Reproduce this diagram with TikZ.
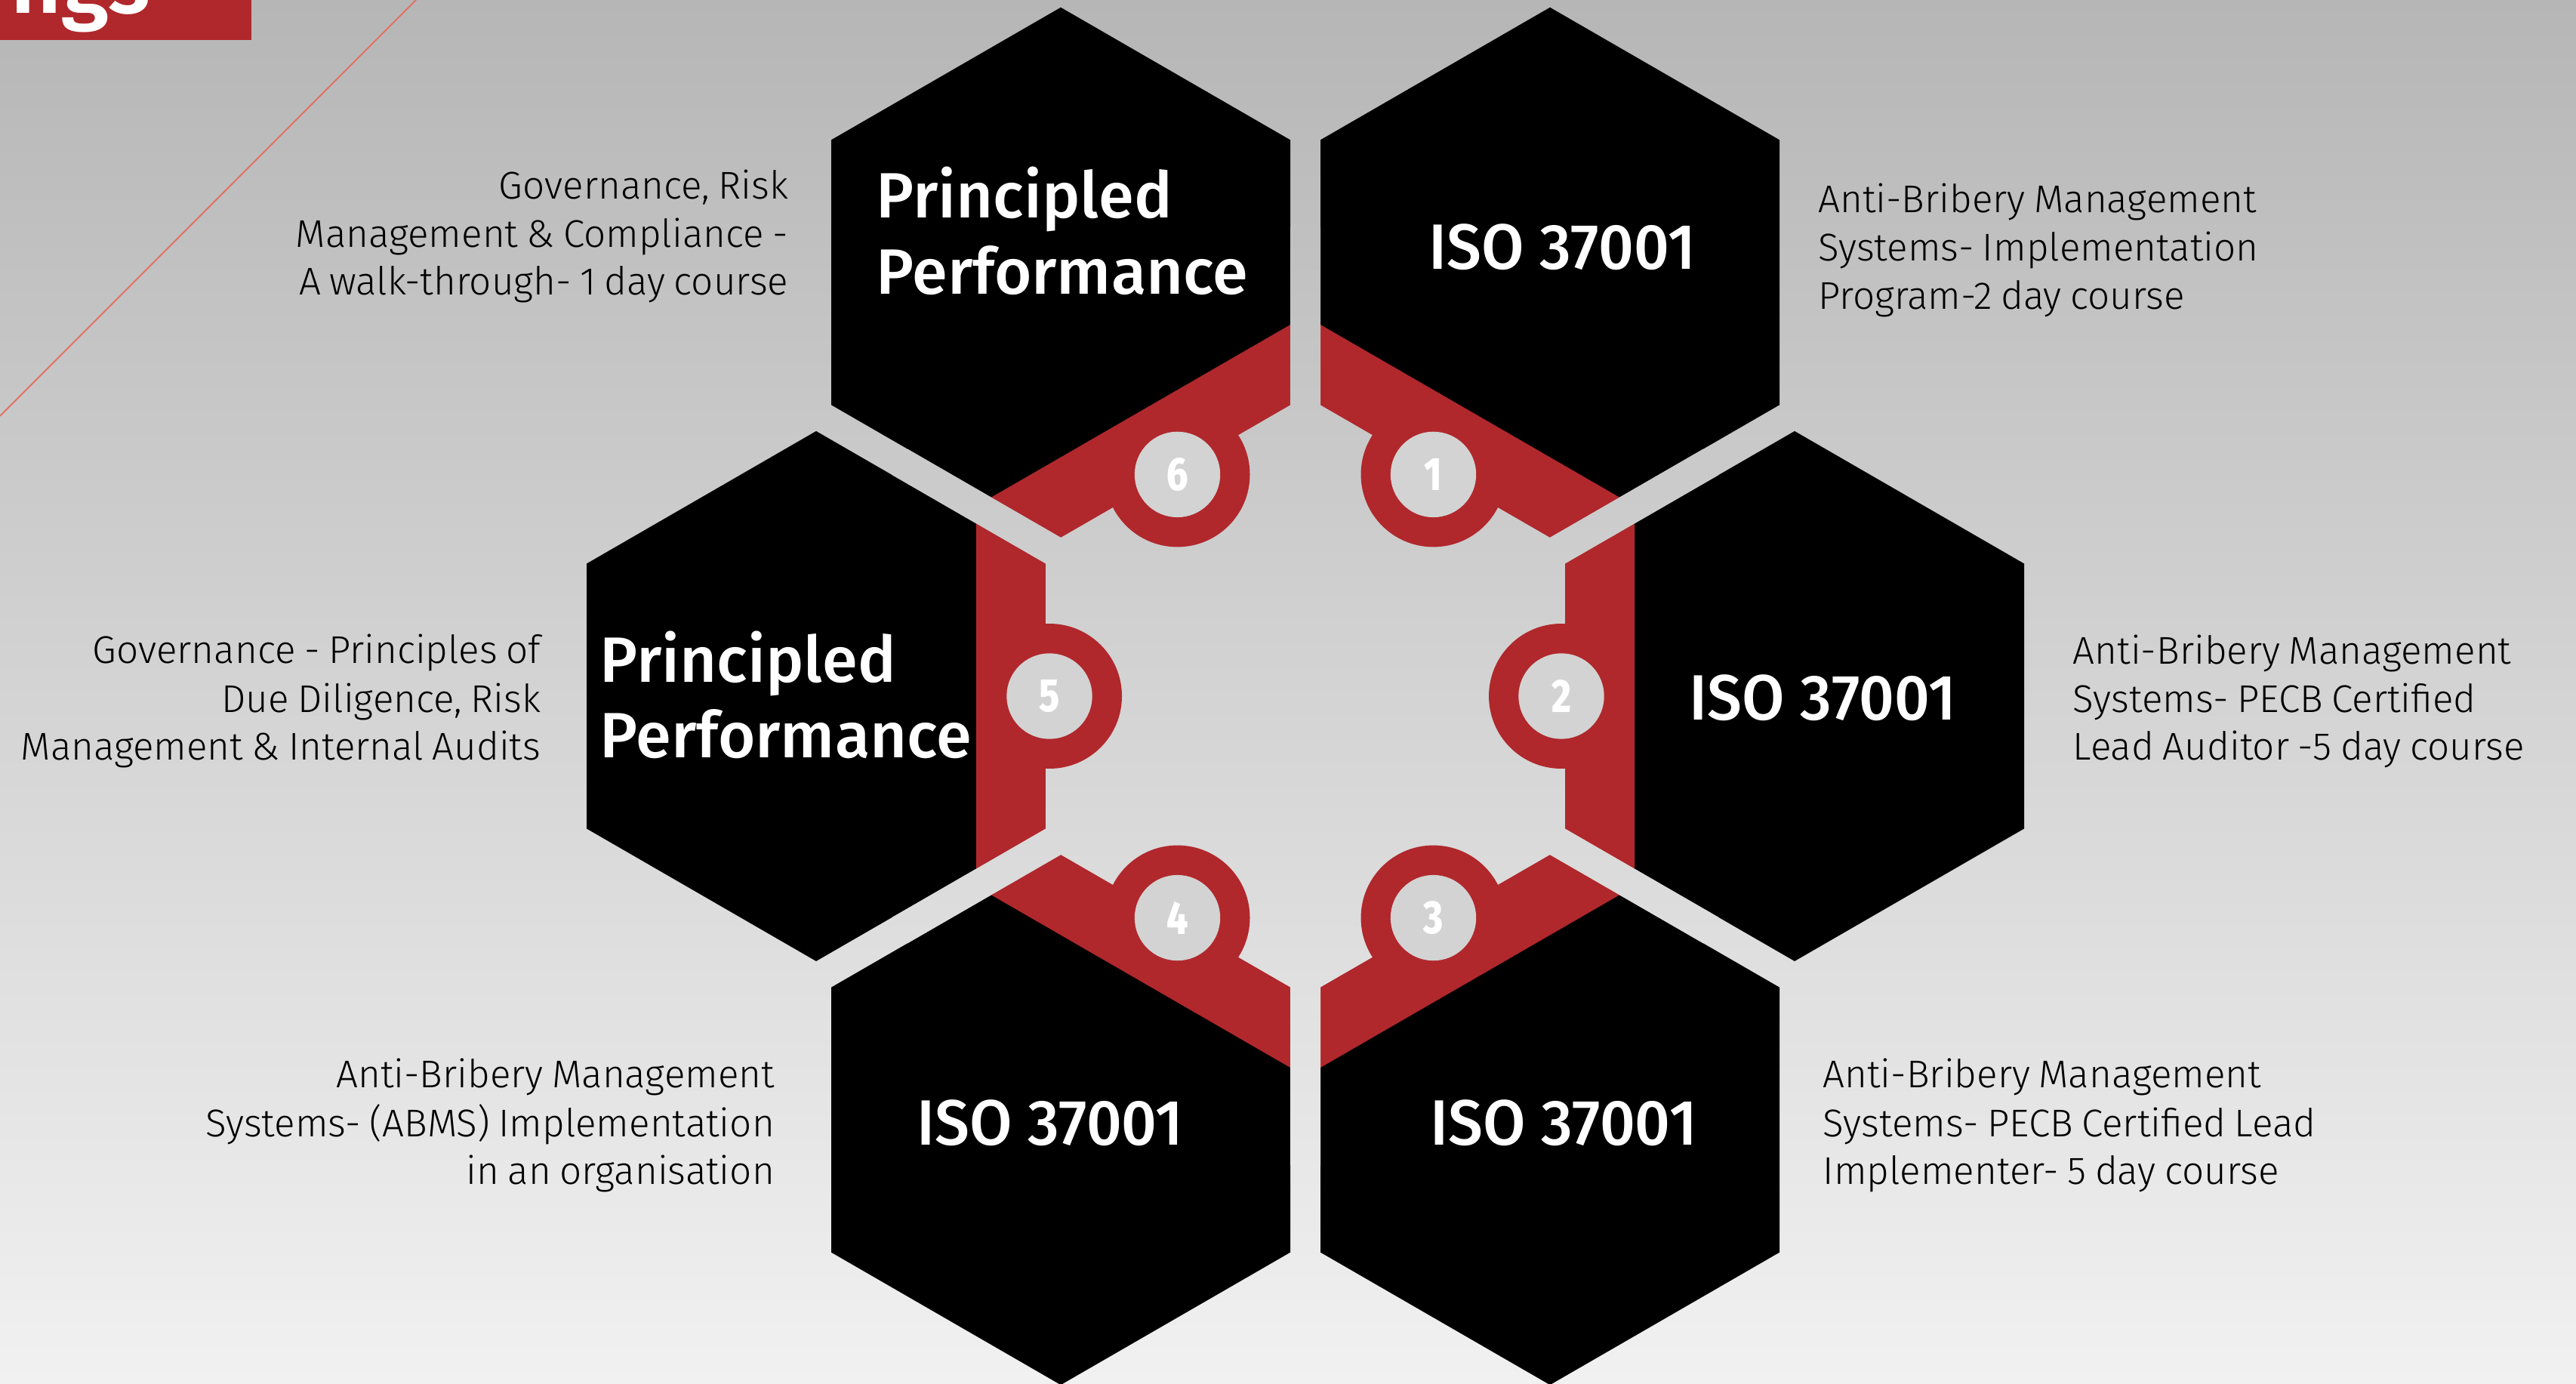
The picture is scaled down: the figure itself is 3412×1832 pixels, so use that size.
\documentclass[tikz,border=0pt]{standalone}
\usepackage{fontspec}
\usepackage{graphicx}
\usetikzlibrary{calc}
\newfontfamily\descfont{Fira Sans Light}[WordSpace=0.8]
\newfontfamily\titlefont{Fira Sans Medium}
\newfontfamily\numfont{Fira Sans ExtraBold}
\newfontfamily\headfont{Fira Sans SemiBold}
\definecolor{bgtop}{RGB}{182,182,182}
\definecolor{bgbot}{RGB}{241,241,241}
\definecolor{hexred}{RGB}{176,40,44}
\definecolor{diskgray}{RGB}{211,211,211}
\definecolor{linesalmon}{RGB}{228,112,100}
\newcommand\HexPath[2]{($(#1)+(30:#2)$) -- ($(#1)+(90:#2)$) -- ($(#1)+(150:#2)$) -- ($(#1)+(210:#2)$) -- ($(#1)+(270:#2)$) -- ($(#1)+(330:#2)$) -- cycle}
\tikzset{
  bgshade/.style={top color=bgtop, bottom color=bgbot, draw=none},
  blackhex/.style={fill=black, draw=none},
  desc/.style={inner sep=0pt, text=black, font=\descfont\fontsize{12.8}{15.8}\selectfont},
  descR/.style={desc, anchor=base east},
  descL/.style={desc, anchor=base west},
  ptitle/.style={inner sep=0pt, text=white, font=\titlefont\fontsize{21.2}{25}\selectfont, anchor=base west},
  isotitle/.style={inner sep=0pt, text=white, font=\titlefont\fontsize{21.2}{25}\selectfont, anchor=base},
  numlabel/.style={inner sep=0pt, text=white, font=\numfont\fontsize{15.5}{18}\selectfont, anchor=center},
}
\begin{document}
\begin{tikzpicture}[x=0.25pt, y=0.25pt]
\useasboundingbox (0,0) rectangle (3412,1832);
\clip (0,0) rectangle (3412,1832);
% background
\shade[bgshade] (0,0) rectangle (3412,1832);
% header fragment and diagonal line
\coordinate (lineA) at (551,1832);
\coordinate (lineB) at (0,1281);
\draw[linesalmon, line width=0.5pt] (lineA) -- (lineB);
\fill[hexred] (0,1779) rectangle (333,1832);
\node[inner sep=0pt, anchor=base east, text=white, font=\headfont\fontsize{29}{32}\selectfont] (head) at (200,1814) {ngs};
% geometry
\coordinate (C) at (1729,910);
\foreach \a/\n in {0/2,60/1,120/6,180/5,240/4,300/3}{
  \coordinate (h\n) at ($(C)+(\a:648)$);
  \coordinate (k\n) at ($(C)+(\a:339)$);
}
% black hexagons
\foreach \n in {1,...,6}{
  \fill[blackhex] \HexPath{h\n}{351};
}
% red ring hexagon
\fill[hexred] \HexPath{C}{503.5};
% inner background hexagon
\begin{scope}
  \clip \HexPath{C}{397};
  \shade[bgshade] (0,0) rectangle (3412,1832);
\end{scope}
% red circles
\foreach \n in {1,...,6}{
  \fill[hexred] (k\n) circle (96);
}
% gap strips
\foreach \a in {30,90,150,210,270,330}{
  \begin{scope}
    \clip ($(C)+(\a+90:20)$) -- ($(C)+(\a:620)+(\a+90:20)$) -- ($(C)+(\a:620)+(\a-90:20)$) -- ($(C)+(\a-90:20)$) -- cycle;
    \shade[bgshade] (0,0) rectangle (3412,1832);
  \end{scope}
}
% number disks
\foreach \n in {1,...,6}{
  \fill[diskgray] (k\n) circle (56.7);
  \node[numlabel] (n\n) at (k\n) {\scalebox{0.8}[1]{\n}};
}
% titles in hexagons
\node[ptitle] (t6a) at (1160,1543.7) {Principled};
\node[ptitle] (t6b) at (1160,1442.7) {Performance};
\node[ptitle] (t5a) at (794,928.7) {Principled};
\node[ptitle] (t5b) at (794,828) {Performance};
\node[isotitle] (t1) at (2069,1475.3) {\scalebox{0.965}[1]{ISO 37001}};
\node[isotitle] (t2) at (2414.5,878) {\scalebox{0.965}[1]{ISO 37001}};
\node[isotitle] (t3) at (2071,315.3) {\scalebox{0.965}[1]{ISO 37001}};
\node[isotitle] (t4) at (1391,315.3) {\scalebox{0.965}[1]{ISO 37001}};
% descriptions
\node[descL] (d1a) at (2407.5,1550.3) {Anti-Bribery Management};
\node[descL] (d1b) at (2407.5,1486.3) {Systems- Implementation};
\node[descL] (d1c) at (2407.5,1422) {Program-2 day course};
\node[descL] (d2a) at (2745,952) {Anti-Bribery Management};
\node[descL] (d2b) at (2745,888.7) {Systems- PECB Certified};
\node[descL] (d2c) at (2745,825.3) {Lead Auditor -5 day course};
\node[descL] (d3a) at (2413.8,391.3) {Anti-Bribery Management};
\node[descL] (d3b) at (2413.8,327) {Systems- PECB Certified Lead};
\node[descL] (d3c) at (2413.8,263.7) {Implementer- 5 day course};
\node[descR] (d4a) at (1026.7,391.3) {Anti-Bribery Management};
\node[descR] (d4b) at (1026.7,327) {Systems- (ABMS) Implementation};
\node[descR] (d4c) at (1026.7,263.7) {in an organisation};
\node[descR] (d5a) at (717,953) {Governance - Principles of};
\node[descR] (d5b) at (717,888.7) {Due Diligence, Risk};
\node[descR] (d5c) at (717,825.3) {Management \& Internal Audits};
\node[descR] (d6a) at (1045,1568.7) {Governance, Risk};
\node[descR] (d6b) at (1045,1504.8) {Management \& Compliance -};
\node[descR] (d6c) at (1045,1441.6) {A walk-through- 1 day course};
\end{tikzpicture}
\end{document}
